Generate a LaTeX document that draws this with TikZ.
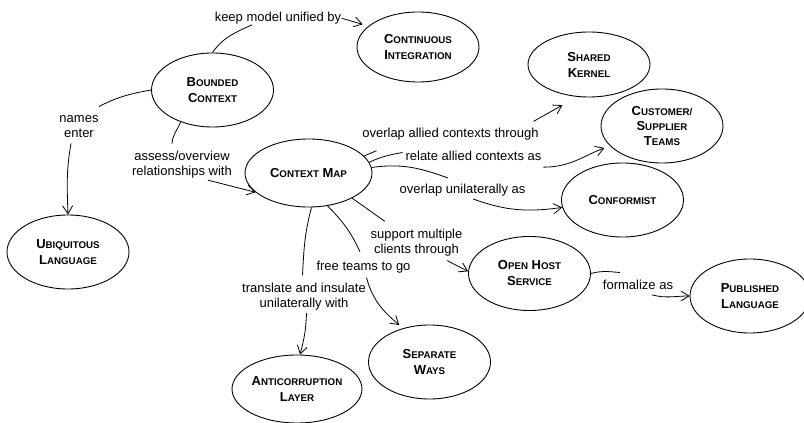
\documentclass[tikz,border=0pt]{standalone}
\usepackage{fontspec}
\setmainfont{Liberation Sans}
\usetikzlibrary{arrows.meta}
\usetikzlibrary{shapes.geometric}

\newcommand{\capsw}[2]{#1{\fontsize{9.75}{16}\selectfont #2}}

\begin{document}
\begin{tikzpicture}[x=1pt, y=1pt, >={Straight Barb[length=8pt,width=10pt]}, line width=0.8pt,
    concept/.style={ellipse, draw, line width=0.9pt, minimum width=122pt, minimum height=74pt,
        inner sep=0pt, align=center, font=\bfseries\fontsize{13}{16}\selectfont},
    lbl/.style={align=center, inner sep=0pt, font=\fontsize{13}{15}\selectfont}]

    \useasboundingbox[fill=white] (0,0) rectangle (804,423);

    \node[concept] (bc) at (212.5,333) {\capsw{B}{OUNDED}\\\capsw{C}{ONTEXT}};
    \node[concept, minimum height=70pt] (ci) at (418,376) {\capsw{C}{ONTINUOUS}\\\capsw{I}{NTEGRATION}};
    \node[concept, minimum height=65pt] (sk) at (589,358.5) {\capsw{S}{HARED}\\\capsw{K}{ERNEL}};
    \node[concept, font=\bfseries\fontsize{13}{15}\selectfont] (cst) at (662,297) {\capsw{C}{USTOMER/}\\\capsw{S}{UPPLIER}\\\capsw{T}{EAMS}};
    \node[concept] (cf) at (622.5,223) {\capsw{C}{ONFORMIST}};
    \node[concept, minimum width=127pt, minimum height=68pt] (cm) at (308.5,250) {\capsw{C}{ONTEXT} \capsw{M}{AP}};
    \node[concept] (ul) at (68,171) {\capsw{U}{BIQUITOUS}\\\capsw{L}{ANGUAGE}};
    \node[concept, minimum width=130pt, minimum height=68pt] (acl) at (297,34) {\capsw{A}{NTICORRUPTION}\\\capsw{L}{AYER}};
    \node[concept] (sw) at (429.5,61) {\capsw{S}{EPARATE}\\\capsw{W}{AYS}};
    \node[concept] (ohs) at (529.5,149.5) {\capsw{O}{PEN} \capsw{H}{OST}\\\capsw{S}{ERVICE}};
    \node[concept, minimum width=120pt] (pl) at (750,127) {\capsw{P}{UBLISHED}\\\capsw{L}{ANGUAGE}};

    \node[lbl] (l1) at (278,404.7) {keep model unified by};
    \node[lbl] (l2) at (79,296) {names\\enter};
    \node[lbl] (l3) at (182,258.8) {assess/overview\\relationships with};
    \node[lbl] (l4) at (450.5,288.7) {overlap allied contexts through};
    \node[lbl] (l5) at (473.5,267) {relate allied contexts as};
    \node[lbl] (l6) at (462.6,232.5) {overlap unilaterally as};
    \node[lbl] (l7) at (416.5,180.8) {support multiple\\clients through};
    \node[lbl] (l8) at (363.5,156.3) {free teams to go};
    \node[lbl] (l9) at (304,126.8) {translate and insulate\\unilaterally with};
    \node[lbl] (l10) at (638,138.3) {formalize as};

    \draw (bc.north) to[out=55,in=205] ([xshift=-26pt]l1.south);
    \draw[->, shorten >=6pt] (l1.east) -- (ci.157);

    \draw (bc.west) to[out=190,in=27] ([yshift=9pt]l2.north east);
    \draw[->] ([xshift=-8pt,yshift=-5pt]l2.south) to[out=260,in=92] (ul.north);

    \draw (bc.225) to[out=250,in=88] ([xshift=-10pt,yshift=6.5pt]l3.north);
    \draw[->] ([xshift=26pt,yshift=-2pt]l3.south) -- (cm.200);

    \draw (cm.17) -- ([xshift=14.5pt,yshift=-10pt]l4.south west);
    \draw[->, shorten >=17pt] ([xshift=-5.5pt,yshift=6.5pt]l4.north east) -- (sk.250);

    \draw (cm.10) to[out=25,in=190] ([xshift=-2.5pt,yshift=3.5pt]l5.west);
    \draw[->, shorten >=6pt] ([xshift=1.5pt,yshift=-6pt]l5.south east) to[out=0,in=200] (cst.201);

    \draw (cm.5) to[out=8,in=160] ([xshift=-14.5pt,yshift=6pt]l6.north);
    \draw[->] ([xshift=10.5pt,yshift=-2pt]l6.south) to[out=-20,in=188] (cf.187);

    \draw (cm.330) -- ([xshift=14.5pt,yshift=7pt]l7.north west);
    \draw[->] ([xshift=-15.5pt,yshift=-4.5pt]l7.south east) -- (ohs.178);

    \draw (cm.300) to[out=-45,in=115] ([xshift=-3.5pt,yshift=8.5pt]l8.north);
    \draw[->, shorten >=5pt] ([xshift=3pt,yshift=-4.5pt]l8.south) to[out=-75,in=140] (sw.128);

    \draw (cm.275) to[out=255,in=87] ([xshift=-1.5pt,yshift=7pt]l9.north);
    \draw[->] ([xshift=2.5pt,yshift=-3pt]l9.south) to[out=268,in=75] (acl.85);

    \draw (ohs.east) to[out=15,in=175] ([xshift=-18pt,yshift=7pt]l10.north);
    \draw[->] ([xshift=14pt,yshift=-5pt]l10.south) to[out=-15,in=180] (pl.west);

\end{tikzpicture}
\end{document}
